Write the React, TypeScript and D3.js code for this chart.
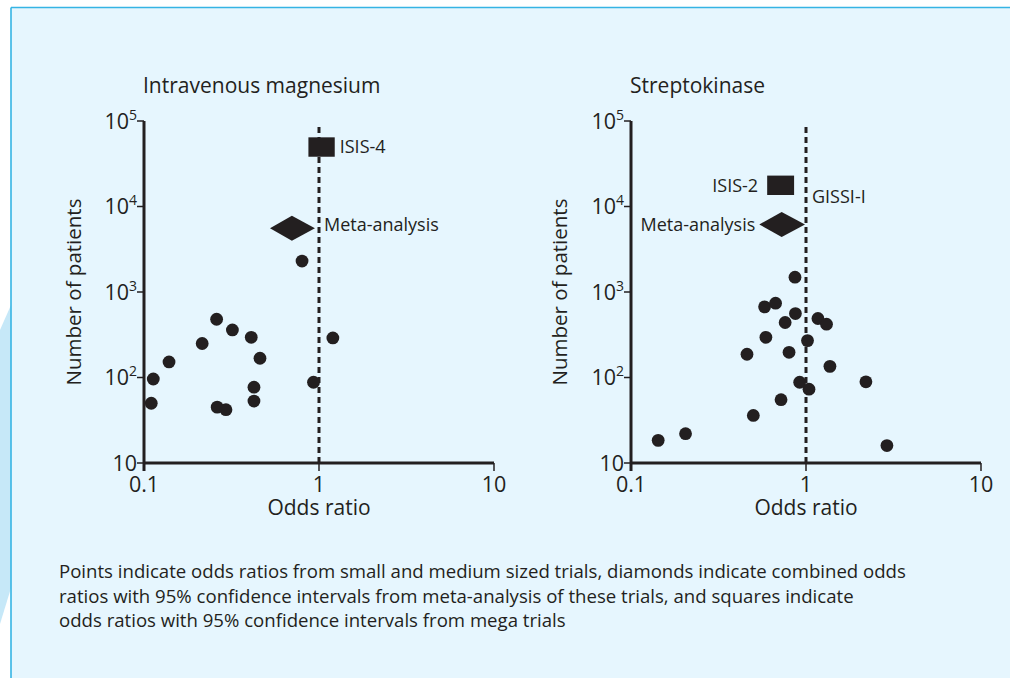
import React from 'react';
import * as d3 from 'd3';

// odds ratio, number of patients
const magnesiumTrials: [number, number][] = [
  [0.11, 50], [0.113, 96], [0.139, 152], [0.215, 250], [0.26, 480],
  [0.32, 360], [0.41, 295], [0.46, 168], [0.425, 77], [0.425, 53],
  [0.262, 45], [0.294, 42], [0.93, 88], [1.2, 290], [0.8, 2300],
];

const streptokinaseTrials: [number, number][] = [
  [0.865, 1490], [0.58, 670], [0.67, 740], [0.87, 560], [0.76, 440],
  [1.17, 490], [1.31, 420], [0.59, 295], [1.02, 270], [0.46, 187],
  [0.8, 197], [1.37, 135], [0.92, 88], [1.04, 73], [2.2, 89],
  [0.72, 55], [0.5, 36], [0.205, 22], [0.143, 18.4], [2.9, 16],
];

// mega trials: odds ratio interval and size
const megaTrials = [
  { label: 'ISIS-4', lo: 0.87, hi: 1.23, n: 49600 },
  { label: 'ISIS-2', lo: 0.6, hi: 0.855, n: 17700 },
];

// meta-analysis: pooled odds ratio with 95% CI
const metaAnalyses = [
  { or: 0.7, lo: 0.525, hi: 0.948, n: 5560 },
  { or: 0.726, lo: 0.541, hi: 0.987, n: 6160 },
];

const titles = ['Intravenous magnesium', 'Streptokinase'];
const xTicks = [0.1, 1, 10];
const xTickLabels = ['0.1', '1', '10'];
const yTicks = [10, 1e2, 1e3, 1e4, 1e5];
const yTickExps = ['', '2', '3', '4', '5'];
const nullLineTop = 85000;
const gissiPatients = 11712;

const caption = [
  'Points indicate odds ratios from small and medium sized trials, diamonds indicate combined odds',
  'ratios with 95% confidence intervals from meta-analysis of these trials, and squares indicate',
  'odds ratios with 95% confidence intervals from mega trials',
];

const ink = '#231f20';
const font = '"Open Sans", "Noto Sans", sans-serif';

interface PanelProps {
  index: number;
  x0: number;
  labelX: number;
  trials: [number, number][];
}

const Panel: React.FC<PanelProps> = ({ index, x0, labelX, trials }) => {
  const x = d3.scaleLog().domain([0.1, 10]).range([x0, x0 + 350]);
  const y = d3.scaleLog().domain([10, 1e5]).range([463, 121]);
  const mega = megaTrials[index];
  const meta = metaAnalyses[index];
  const [yBottom] = y.range();

  const sqY = y(mega.n);
  const dmY = y(meta.n);
  const diamond = d3.line()([
    [x(meta.lo), dmY],
    [x(meta.or), dmY - 12.5],
    [x(meta.hi), dmY],
    [x(meta.or), dmY + 12.5],
  ]) + 'Z';

  return (
    <g fontFamily={font} fill={ink}>
      <text x={x0 - 1} y={93} fontSize={21}>{titles[index]}</text>

      {/* null line */}
      <line x1={x(1)} x2={x(1)} y1={y(nullLineTop)} y2={yBottom}
        stroke={ink} strokeWidth={3} strokeDasharray="6,4" />

      {/* axes */}
      <line x1={x0} x2={x0} y1={y(1e5)} y2={yBottom + 8} stroke={ink} strokeWidth={3} />
      <line x1={x0} x2={x(10)} y1={yBottom} y2={yBottom} stroke={ink} strokeWidth={3} />
      {yTicks.map((t, i) => (
        <g key={t}>
          <line x1={x0 - 7} x2={x0} y1={y(t)} y2={y(t)} stroke={ink} strokeWidth={1.5} />
          <text x={x0 - 7} y={y(t) + 7.5} fontSize={21.5} textAnchor="end">
            10{yTickExps[i] && <tspan fontSize={14} dy={-9}>{yTickExps[i]}</tspan>}
          </text>
        </g>
      ))}
      {xTicks.map((t, i) => (
        <g key={t}>
          <line x1={x(t)} x2={x(t)} y1={yBottom} y2={yBottom + 8} stroke={ink} strokeWidth={1.5} />
          <text x={x(t)} y={492} fontSize={21.5} textAnchor="middle">{xTickLabels[i]}</text>
        </g>
      ))}
      <text x={x(1)} y={515} fontSize={21} textAnchor="middle">Odds ratio</text>
      <text transform={`translate(${labelX},${(y(1e5) + yBottom) / 2}) rotate(-90)`}
        fontSize={20.5} textAnchor="middle" dy={7}>Number of patients</text>

      {/* trials */}
      {trials.map(([or, n], i) => (
        <circle key={i} cx={x(or)} cy={y(n)} r={6.4} />
      ))}

      <rect x={x(mega.lo)} y={sqY - 9.7} width={x(mega.hi) - x(mega.lo)} height={19.4} />
      <path d={diamond} />

      {index === 0 ? (
        <>
          <text x={x(mega.hi) + 5} y={sqY + 6} fontSize={18}>{mega.label}</text>
          <text x={x(1) + 5} y={dmY + 3} fontSize={18}>Meta-analysis</text>
        </>
      ) : (
        <>
          <text x={x(mega.lo) - 9} y={sqY + 6.4} fontSize={18} textAnchor="end">{mega.label}</text>
          <text x={x(meta.lo) - 4} y={dmY + 6.2} fontSize={18} textAnchor="end">Meta-analysis</text>
          <text x={x(1) + 6} y={y(gissiPatients) + 2.5} fontSize={18}>GISSI-I</text>
        </>
      )}
    </g>
  );
};

export default function App() {
  return (
    <svg width={1010} height={678} style={{ position: 'absolute', left: 0, top: 0 }}>
      <rect width={1010} height={678} fill="#ffffff" />
      <polygon points="0,330 11,305 11,588 0,624" fill="#c6e8f8" />
      <rect x={11} y={7.5} width={1010} height={700} fill="#e6f6fe" />
      <line x1={11} x2={1010} y1={7.5} y2={7.5} stroke="#35b4e4" strokeWidth={1.6} />
      <line x1={11} x2={11} y1={7.5} y2={678} stroke="#35b4e4" strokeWidth={1.6} />

      <Panel index={0} x0={144} labelX={74} trials={magnesiumTrials} />
      <Panel index={1} x0={631} labelX={560} trials={streptokinaseTrials} />

      <g fontFamily={font} fontSize={18.6} fill={ink}>
        {caption.map((line, i) => (
          <text key={i} x={59} y={578 + i * 24.5}>{line}</text>
        ))}
      </g>
    </svg>
  );
}
